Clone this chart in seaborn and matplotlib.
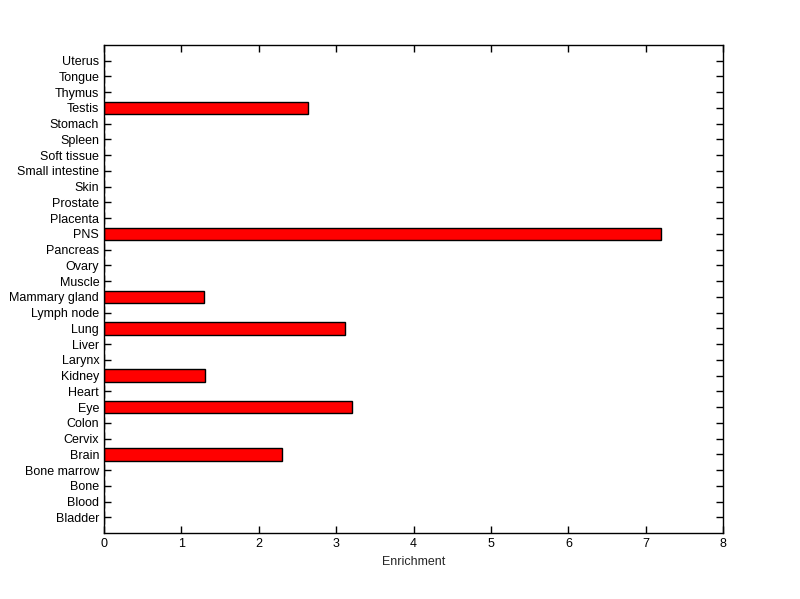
import matplotlib
matplotlib.use('Agg')
import matplotlib.pyplot as plt
import pandas as pd
import seaborn as sns

# Tissue categories, bottom to top as shown
tissues = ['Bladder', 'Blood', 'Bone', 'Bone marrow', 'Brain', 'Cervix', 'Colon',
           'Eye', 'Heart', 'Kidney', 'Larynx', 'Liver', 'Lung', 'Lymph node',
           'Mammary gland', 'Muscle', 'Ovary', 'Pancreas', 'PNS', 'Placenta',
           'Prostate', 'Skin', 'Small intestine', 'Soft tissue', 'Spleen',
           'Stomach', 'Testis', 'Thymus', 'Tongue', 'Uterus']
enrichment = [0, 0, 0, 0, 2.30, 0, 0,
              3.20, 0, 1.30, 0, 0, 3.11, 0,
              1.29, 0, 0, 0, 7.19, 0,
              0, 0, 0, 0, 0,
              0, 2.64, 0, 0, 0]

df = pd.DataFrame({'tissue': tissues, 'value': enrichment})

sns.set_style('white')
plt.rcParams['font.family'] = ['Liberation Sans', 'DejaVu Sans']

fig = plt.figure(figsize=(8, 5.99), dpi=100)
ax = fig.add_axes([0.13, 0.11, 0.774, 0.815])

sns.barplot(data=df, x='value', y='tissue', order=tissues[::-1], orient='h',
            color='#ff0000', saturation=1, width=0.8,
            edgecolor='black', linewidth=1, ax=ax)

ax.set_xlim(0, 8)
ax.set_ylim(30, -1)
ax.set_xticks(range(9))
ax.set_xlabel('Enrichment', fontsize=9)
ax.set_ylabel('')
ax.tick_params(axis='both', which='both', direction='in', length=5, width=1,
               top=True, right=True, bottom=True, left=True,
               labelsize=9, colors='black')
for s in ax.spines.values():
    s.set_visible(True)
    s.set_color('black')
    s.set_linewidth(1)

fig.savefig('out.png', dpi=100)
